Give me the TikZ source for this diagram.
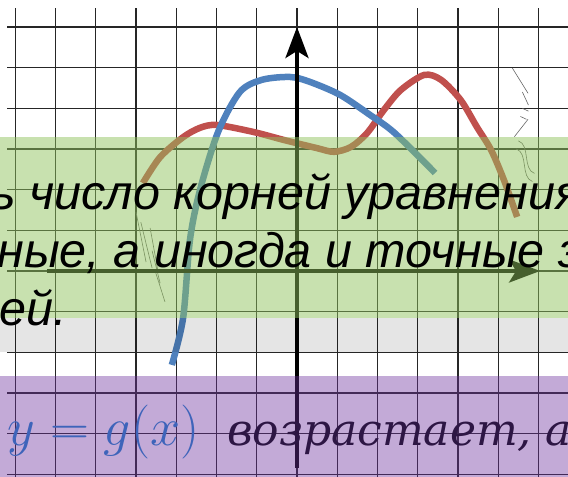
\RequirePackage{fix-cm}
\documentclass[tikz,border=0pt]{standalone}
\usepackage{fontspec}
\setmainfont{Liberation Sans}
\newfontfamily\cyrserif{DejaVu Serif}
\usetikzlibrary{arrows.meta,positioning}
\definecolor{gridink}{HTML}{262626}
\definecolor{curveblue}{HTML}{4F81BD}
\definecolor{curvered}{HTML}{C0504D}
\definecolor{bandgreen}{RGB}{143,194,92}
\definecolor{bandviolet}{RGB}{110,49,158}
\definecolor{mathblue}{RGB}{62,100,186}
\definecolor{violetink}{RGB}{45,22,68}
\tikzset{
  gridline/.style={gridink,line width=1.4pt},
  axisline/.style={black,line width=4pt,-{Stealth[length=31pt,width=23pt,inset=7pt]}},
  curve/.style={line width=6.5pt,smooth},
  pencil/.style={black!60,line width=.6pt},
  slidetext/.style={anchor=base west,inner sep=0pt}
}

\begin{document}
\begin{tikzpicture}[x=40.25pt,y=40.67pt,font=\fontsize{48.5}{58}\selectfont\itshape]
\useasboundingbox (-7.379,-5.065) rectangle (6.733,6.663);
\clip (-7.379,-5.065) rectangle (6.733,6.663);
\foreach \x in {-7,...,6} \draw[gridline] (\x,-5.3)--(\x,6.47);
\foreach \y in {-5,...,6} \draw[gridline] (-7.2,\y)--(6.9,\y);
\draw[pencil] (-4.0,1.45)--(-3.75,.22) (-3.88,1.2)--(-3.6,.07) (-3.65,1.06)--(-3.45,-.02)
  (-3.6,.5)--(-3.4,-.3) (-3.53,.02)--(-3.28,-.76);
\draw[pencil] (5.35,4.99)--(5.74,4.37) (5.6,4.4)--(5.75,4.08) (5.6,4.0)--(5.75,3.93)
  (5.55,3.8)--(5.7,3.73) (5.4,3.3)--(5.74,3.73)
  (5.5,3.2) .. controls (5.8,3.1) and (5.6,2.5) .. (5.9,2.4)
  (5.45,3.0) .. controls (5.75,2.9) and (5.55,2.3) .. (5.85,2.2);
\draw[curvered,curve] plot coordinates
  {(-3.83,2.16)(-3.40,2.80)(-2.83,3.29)(-2.41,3.52)(-1.99,3.59)(-1.09,3.42)(-0.32,3.22)
   (0.50,3.02)(0.92,2.93)(1.34,3.05)(1.74,3.39)(2.16,3.96)(2.58,4.45)(3.16,4.82)
   (3.58,4.70)(4.07,4.20)(4.47,3.54)(4.82,2.98)(5.14,2.24)(5.47,1.33)};
\draw[curveblue,curve] plot coordinates
  {(-3.11,-2.31)(-2.83,-1.16)(-2.66,.76)(-2.41,1.99)(-1.96,3.42)(-1.42,4.40)(-0.87,4.70)
   (-0.17,4.77)(0.32,4.65)(1.07,4.33)(1.81,3.84)(2.43,3.39)(3.43,2.41)};
\coordinate (ybot) at (0,-4.84);
\coordinate (ytop) at (0,6.0);
\coordinate (xleft) at (-6.21,0);
\coordinate (xright) at (6.04,0);
\draw[axisline] (ybot)--(ytop);
\draw[axisline] (xleft)--(xright);
\fill[bandgreen,fill opacity=.49] (-7.4,3.295) rectangle (6.8,-1.156);
\fill[black,fill opacity=.1] (-7.4,-1.156) rectangle (6.8,-1.99);
\fill[bandviolet,fill opacity=.41] (-7.4,-2.58) rectangle (6.8,-5.2);
\node[slidetext] (rowone) at (-7.62,1.50) {ь число корней уравнения};
\node[slidetext] (rowtwo) at (-7.45,.08) {ные, а иногда и точные зн};
\node[slidetext] (rowthree) at (-7.40,-1.33) {ей.};
\node[slidetext,mathblue,font=\fontsize{54}{62}\selectfont] (gfun) at (-7.2,-4.28) {$y = g(x)$};
\node[slidetext,violetink,font=\fontsize{44}{52}\selectfont\cyrserif\itshape] (grows) at (-1.74,-4.28) {возрастает, а};
\end{tikzpicture}
\end{document}
